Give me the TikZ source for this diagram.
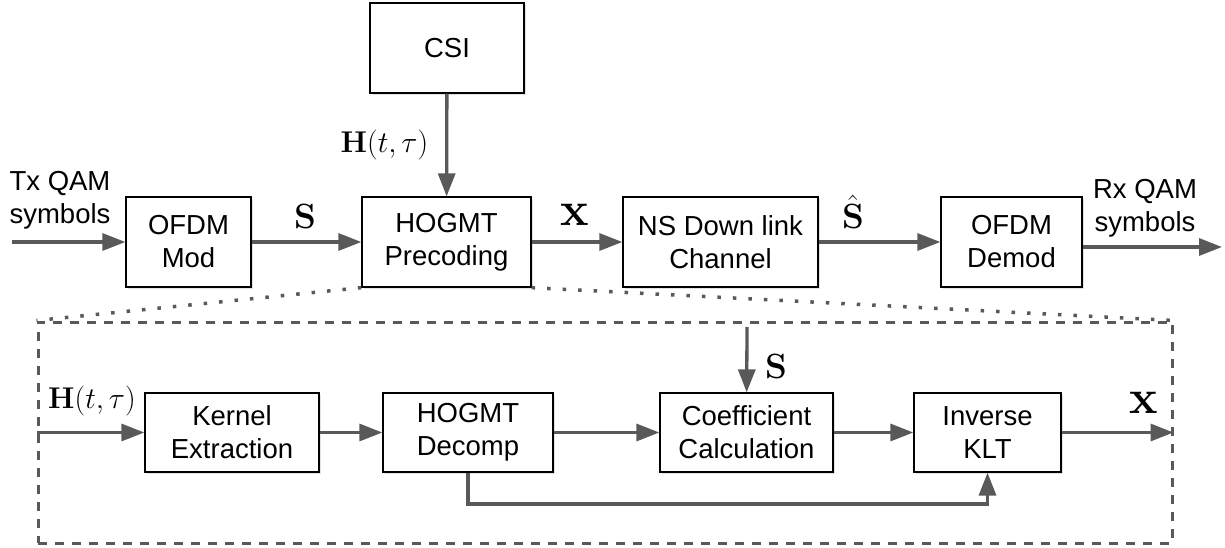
\RequirePackage{fix-cm}
\documentclass[tikz,border=0pt]{standalone}
\usepackage[no-math]{fontspec}
\setmainfont{Liberation Sans}
\usetikzlibrary{arrows.meta,shadows,calc}
\definecolor{arr}{RGB}{89,89,89}
\begin{document}
\begin{tikzpicture}[x=1pt,y=-1pt,
  blk/.style={draw=black, line width=1.3pt, fill=white, minimum height=90pt, inner sep=0pt,
    align=center, font=\fontsize{27.5}{33}\selectfont,
    drop shadow={opacity=0.22, shadow xshift=1.5pt, shadow yshift=-2pt}},
  lblk/.style={blk, minimum height=79pt},
  flow/.style={draw=arr, line width=3.3pt, -{Triangle[length=23pt,width=17pt]}},
  txt/.style={font=\fontsize{27.5}{33}\selectfont, align=center, inner sep=0pt},
  mlabS/.style={font=\fontsize{35}{40}\selectfont, inner sep=0pt, anchor=base},
  mlabX/.style={font=\fontsize{48}{52}\selectfont, inner sep=0pt, anchor=base},
  mlabH/.style={font=\fontsize{30}{34}\selectfont, inner sep=0pt, anchor=base},
  zoomframe/.style={draw=arr, line width=3pt, dash pattern=on 9pt off 8pt, minimum width=1134pt, minimum height=221pt, inner sep=0pt},
  dots/.style={draw=arr, line width=3.5pt, dash pattern=on 3.5pt off 12pt}
]
\useasboundingbox (0,0) rectangle (1225,548);

% top row
\node[blk, minimum width=154pt] (csi) at (447,48) {CSI};
\node[blk, minimum width=125pt] (mod) at (188.5,242) {OFDM\\Mod};
\node[blk, minimum width=169pt] (prec) at (446.5,242) {HOGMT\\Precoding};
\node[blk, minimum width=195pt] (chan) at (720.5,242) {NS Down link\\Channel};
\node[blk, minimum width=141pt] (demod) at (1011.5,242) {OFDM\\Demod};

\coordinate (txin) at (12,242);
\coordinate (rxout) at (1222,247);
\node[txt] (txl) at (60,200) {Tx QAM\\symbols};
\node[txt] (rxl) at (1145,208) {Rx QAM\\symbols};

% lower frame
\node[zoomframe] (frame) at (605,432.5) {};
\draw[dots] (prec.south west) -- (frame.north west);
\draw[dots] (prec.south east) -- (frame.north east);

\node[lblk, minimum width=174pt] (kern) at (232,432.5) {Kernel\\Extraction};
\node[lblk, minimum width=170pt] (dec) at (468,432.5) {HOGMT\\Decomp};
\node[lblk, minimum width=173pt] (coef) at (746.5,432.5) {Coefficient\\Calculation};
\node[lblk, minimum width=147pt] (iklt) at (987.5,432.5) {Inverse\\KLT};
\coordinate (sin) at (747,327);

% connectors top
\draw[flow] (txin) -- (mod);
\draw[flow] (mod) -- (prec);
\draw[flow] (prec) -- (chan);
\draw[flow] (chan) -- (demod);
\draw[flow] (demod.east |- rxout) -- (rxout);
\draw[flow] (csi) -- (prec);

% connectors bottom
\draw[flow] (frame.west) -- (kern);
\draw[flow] (kern) -- (dec);
\draw[flow] (dec) -- (coef);
\draw[flow] (coef) -- (iklt);
\draw[flow] (iklt) -- (frame.east);
\draw[flow] (sin) -- (coef);
\draw[flow] (dec.south) -- (468,504) -| (iklt.south);

% math labels
\node[mlabH] (h1) at (384.5,153) {$\mathbf{H}(t,\tau)$};
\node[mlabS] (s1) at (305,228) {$\mathbf{S}$};
\node[mlabX] (x1) at (575,225) {$\mathbf{x}$};
\node[mlabS] (s2) at (853,228) {$\hat{\mathbf{S}}$};
\node[mlabH] (h2) at (92,408) {$\mathbf{H}(t,\tau)$};
\node[mlabS] (s3) at (776,378) {$\mathbf{S}$};
\node[mlabX] (x2) at (1144,413) {$\mathbf{x}$};
\end{tikzpicture}
\end{document}
